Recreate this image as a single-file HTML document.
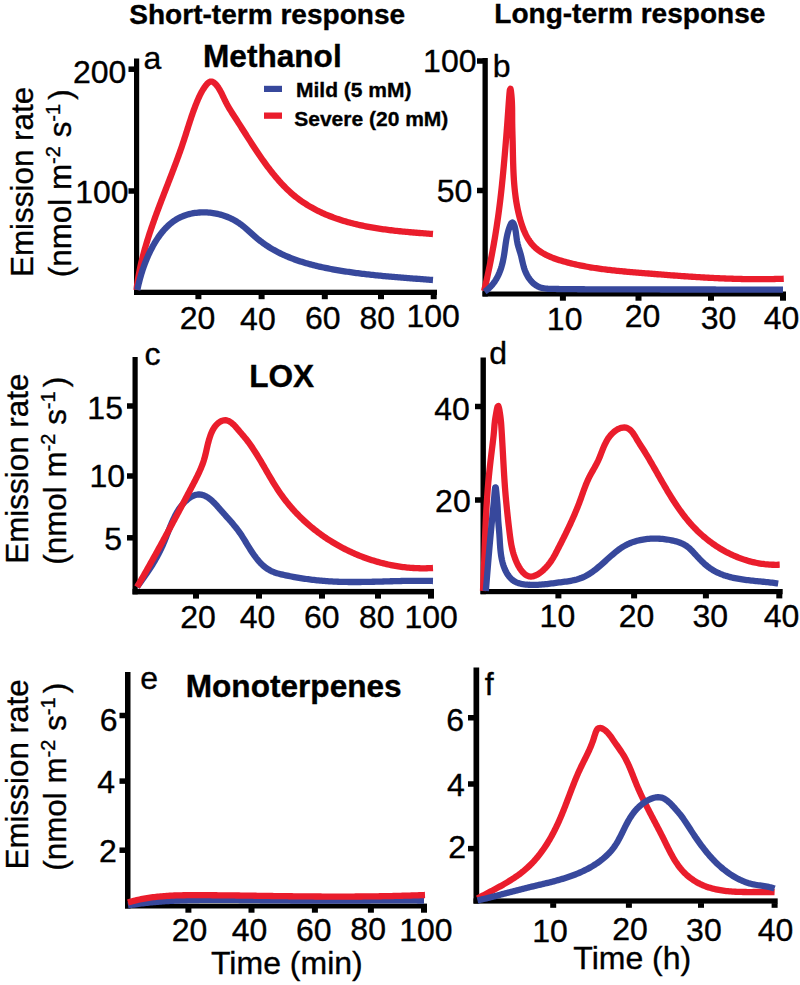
<!DOCTYPE html><html><head><meta charset="utf-8"><style>html,body{margin:0;padding:0;background:#fff;width:800px;height:985px;overflow:hidden}</style></head><body><svg width="800" height="985" viewBox="0 0 800 985" style="display:block;font-family:'Liberation Sans',sans-serif"><style>.sup{font-size:20px} text{white-space:pre;stroke:#000;stroke-width:0.35px}</style><rect width="800" height="985" fill="#fff"/><rect x="134.00" y="58.50" width="5.20" height="236.50" fill="#000"/><rect x="134.00" y="289.70" width="303.00" height="5.30" fill="#000"/><rect x="128.50" y="66.45" width="6.00" height="5.50" fill="#000"/><rect x="128.50" y="188.25" width="6.00" height="5.50" fill="#000"/><rect x="195.40" y="294.50" width="6.00" height="4.70" fill="#000"/><rect x="258.60" y="294.50" width="6.00" height="4.70" fill="#000"/><rect x="321.80" y="294.50" width="6.00" height="4.70" fill="#000"/><rect x="378.00" y="294.50" width="6.00" height="4.70" fill="#000"/><rect x="430.70" y="294.50" width="6.00" height="4.70" fill="#000"/><rect x="482.50" y="58.00" width="5.30" height="238.50" fill="#000"/><rect x="482.50" y="291.50" width="303.50" height="5.00" fill="#000"/><rect x="477.00" y="58.25" width="6.00" height="5.50" fill="#000"/><rect x="477.00" y="187.75" width="6.00" height="5.50" fill="#000"/><rect x="559.90" y="296.00" width="6.00" height="4.70" fill="#000"/><rect x="635.50" y="296.00" width="6.00" height="4.70" fill="#000"/><rect x="708.00" y="296.00" width="6.00" height="4.70" fill="#000"/><rect x="780.00" y="296.00" width="6.00" height="4.70" fill="#000"/><rect x="132.50" y="357.00" width="5.20" height="237.40" fill="#000"/><rect x="132.50" y="588.90" width="301.50" height="5.50" fill="#000"/><rect x="127.00" y="403.25" width="6.00" height="5.50" fill="#000"/><rect x="127.00" y="473.25" width="6.00" height="5.50" fill="#000"/><rect x="127.00" y="535.05" width="6.00" height="5.50" fill="#000"/><rect x="193.00" y="593.90" width="6.00" height="4.70" fill="#000"/><rect x="256.00" y="593.90" width="6.00" height="4.70" fill="#000"/><rect x="319.00" y="593.90" width="6.00" height="4.70" fill="#000"/><rect x="375.00" y="593.90" width="6.00" height="4.70" fill="#000"/><rect x="428.00" y="593.90" width="6.00" height="4.70" fill="#000"/><rect x="480.50" y="357.50" width="5.40" height="236.70" fill="#000"/><rect x="480.50" y="589.00" width="302.20" height="5.20" fill="#000"/><rect x="475.00" y="403.75" width="6.00" height="5.50" fill="#000"/><rect x="475.00" y="497.25" width="6.00" height="5.50" fill="#000"/><rect x="555.40" y="593.70" width="6.00" height="4.70" fill="#000"/><rect x="631.10" y="593.70" width="6.00" height="4.70" fill="#000"/><rect x="702.90" y="593.70" width="6.00" height="4.70" fill="#000"/><rect x="776.30" y="593.70" width="6.00" height="4.70" fill="#000"/><rect x="125.00" y="672.00" width="5.50" height="236.50" fill="#000"/><rect x="125.00" y="903.60" width="302.00" height="4.90" fill="#000"/><rect x="119.50" y="712.75" width="6.00" height="5.50" fill="#000"/><rect x="119.50" y="778.35" width="6.00" height="5.50" fill="#000"/><rect x="119.50" y="847.45" width="6.00" height="5.50" fill="#000"/><rect x="185.40" y="908.00" width="6.00" height="4.70" fill="#000"/><rect x="248.50" y="908.00" width="6.00" height="4.70" fill="#000"/><rect x="311.90" y="908.00" width="6.00" height="4.70" fill="#000"/><rect x="367.90" y="908.00" width="6.00" height="4.70" fill="#000"/><rect x="421.00" y="908.00" width="6.00" height="4.70" fill="#000"/><rect x="473.50" y="667.50" width="5.70" height="236.10" fill="#000"/><rect x="473.50" y="898.40" width="304.20" height="5.20" fill="#000"/><rect x="468.00" y="715.00" width="6.00" height="5.50" fill="#000"/><rect x="468.00" y="781.25" width="6.00" height="5.50" fill="#000"/><rect x="468.00" y="845.85" width="6.00" height="5.50" fill="#000"/><rect x="550.20" y="903.10" width="6.00" height="4.70" fill="#000"/><rect x="625.90" y="903.10" width="6.00" height="4.70" fill="#000"/><rect x="698.00" y="903.10" width="6.00" height="4.70" fill="#000"/><rect x="771.60" y="903.10" width="6.00" height="4.70" fill="#000"/><path d="M136.50,290.00 L136.67,288.50 L136.86,287.01 L137.06,285.51 L137.26,284.02 L137.48,282.53 L137.71,281.04 L137.95,279.55 L138.19,278.06 L138.45,276.58 L138.72,275.09 L138.99,273.61 L139.27,272.13 L139.57,270.65 L139.87,269.18 L140.18,267.70 L140.50,266.23 L140.83,264.76 L141.16,263.29 L141.50,261.82 L141.85,260.36 L142.21,258.89 L142.58,257.43 L142.95,255.97 L143.33,254.51 L143.72,253.05 L144.11,251.60 L144.51,250.15 L144.92,248.70 L145.33,247.25 L145.75,245.80 L146.18,244.35 L146.61,242.91 L147.05,241.47 L147.49,240.03 L147.94,238.59 L148.39,237.15 L148.85,235.71 L149.31,234.28 L149.78,232.85 L150.25,231.42 L150.73,229.99 L151.21,228.56 L151.70,227.13 L152.19,225.71 L152.68,224.28 L153.18,222.86 L153.68,221.44 L154.18,220.02 L154.69,218.60 L155.20,217.18 L155.71,215.76 L156.23,214.35 L156.75,212.93 L157.27,211.52 L157.80,210.11 L158.32,208.69 L158.85,207.28 L159.38,205.87 L159.92,204.46 L160.45,203.05 L160.99,201.65 L161.53,200.24 L162.07,198.83 L162.61,197.42 L163.15,196.02 L163.69,194.61 L164.23,193.21 L164.78,191.80 L165.32,190.40 L165.87,188.99 L166.41,187.59 L166.96,186.18 L167.50,184.78 L168.05,183.37 L168.60,181.97 L169.14,180.56 L169.68,179.15 L170.23,177.75 L170.77,176.34 L171.31,174.94 L171.85,173.53 L172.39,172.12 L172.93,170.72 L173.47,169.31 L174.00,167.90 L174.54,166.49 L175.07,165.08 L175.60,163.67 L176.12,162.25 L176.65,160.84 L177.17,159.43 L177.69,158.01 L178.20,156.60 L178.72,155.18 L179.23,153.76 L179.74,152.34 L180.24,150.92 L180.74,149.50 L181.24,148.08 L181.73,146.65 L182.22,145.23 L182.70,143.80 L183.18,142.37 L183.66,140.94 L184.13,139.51 L184.59,138.08 L185.06,136.64 L185.52,135.21 L185.97,133.77 L186.43,132.33 L186.88,130.90 L187.34,129.46 L187.79,128.02 L188.25,126.59 L188.70,125.15 L189.16,123.72 L189.63,122.28 L190.09,120.85 L190.57,119.42 L191.04,117.99 L191.52,116.56 L192.01,115.13 L192.50,113.71 L193.01,112.29 L193.51,110.87 L194.03,109.45 L194.56,108.04 L195.09,106.63 L195.63,105.23 L196.19,103.82 L196.75,102.43 L197.32,101.03 L197.91,99.64 L198.52,98.26 L199.14,96.89 L199.78,95.53 L200.45,94.18 L201.14,92.84 L201.86,91.52 L202.62,90.21 L203.40,88.92 L204.23,87.66 L205.09,86.43 L206.00,85.23 L206.97,84.07 L208.03,83.00 L209.23,82.09 L210.62,81.54 L212.11,81.63 L213.48,82.25 L214.68,83.16 L215.75,84.22 L216.72,85.37 L217.62,86.58 L218.47,87.83 L219.26,89.11 L220.02,90.41 L220.74,91.73 L221.44,93.07 L222.11,94.42 L222.77,95.78 L223.41,97.14 L224.06,98.50 L224.70,99.86 L225.36,101.22 L226.03,102.57 L226.73,103.90 L227.45,105.23 L228.19,106.54 L228.95,107.84 L229.72,109.14 L230.50,110.42 L231.30,111.70 L232.11,112.98 L232.92,114.25 L233.74,115.51 L234.56,116.78 L235.38,118.04 L236.20,119.31 L237.02,120.57 L237.83,121.84 L238.64,123.11 L239.46,124.38 L240.27,125.65 L241.07,126.92 L241.88,128.19 L242.69,129.47 L243.50,130.74 L244.31,132.01 L245.11,133.28 L245.92,134.55 L246.73,135.83 L247.54,137.10 L248.35,138.37 L249.16,139.64 L249.98,140.91 L250.79,142.17 L251.61,143.44 L252.43,144.70 L253.25,145.97 L254.08,147.23 L254.91,148.49 L255.74,149.74 L256.58,151.00 L257.41,152.25 L258.26,153.50 L259.10,154.74 L259.96,155.99 L260.81,157.23 L261.67,158.47 L262.54,159.70 L263.41,160.93 L264.29,162.16 L265.17,163.38 L266.06,164.60 L266.95,165.81 L267.85,167.02 L268.76,168.22 L269.67,169.42 L270.59,170.61 L271.52,171.80 L272.46,172.98 L273.40,174.15 L274.36,175.32 L275.32,176.48 L276.29,177.63 L277.27,178.78 L278.26,179.92 L279.25,181.05 L280.26,182.17 L281.28,183.28 L282.31,184.38 L283.35,185.47 L284.40,186.55 L285.46,187.63 L286.53,188.68 L287.61,189.73 L288.71,190.77 L289.81,191.79 L290.93,192.80 L292.07,193.79 L293.21,194.77 L294.37,195.74 L295.54,196.69 L296.72,197.63 L297.91,198.54 L299.12,199.45 L300.34,200.33 L301.57,201.21 L302.81,202.06 L304.06,202.90 L305.32,203.72 L306.59,204.53 L307.88,205.33 L309.17,206.10 L310.47,206.87 L311.78,207.61 L313.09,208.34 L314.42,209.06 L315.75,209.76 L317.10,210.45 L318.44,211.12 L319.80,211.78 L321.16,212.42 L322.53,213.05 L323.91,213.67 L325.29,214.27 L326.68,214.85 L328.07,215.43 L329.47,215.99 L330.88,216.54 L332.28,217.07 L333.70,217.59 L335.12,218.10 L336.54,218.60 L337.97,219.09 L339.40,219.56 L340.83,220.02 L342.27,220.47 L343.71,220.91 L345.16,221.34 L346.60,221.76 L348.06,222.17 L349.51,222.56 L350.97,222.95 L352.43,223.32 L353.89,223.69 L355.35,224.05 L356.82,224.40 L358.29,224.73 L359.76,225.06 L361.23,225.38 L362.70,225.70 L364.18,226.00 L365.66,226.30 L367.14,226.58 L368.62,226.86 L370.10,227.14 L371.58,227.40 L373.07,227.66 L374.56,227.91 L376.04,228.15 L377.53,228.39 L379.02,228.62 L380.51,228.84 L382.00,229.06 L383.49,229.27 L384.99,229.48 L386.48,229.68 L387.98,229.87 L389.47,230.06 L390.97,230.25 L392.46,230.43 L393.96,230.60 L395.46,230.77 L396.96,230.93 L398.45,231.10 L399.95,231.25 L401.45,231.41 L402.95,231.55 L404.45,231.70 L405.95,231.84 L407.45,231.98 L408.95,232.12 L410.46,232.25 L411.96,232.38 L413.46,232.51 L414.96,232.63 L416.46,232.75 L417.97,232.87 L419.47,232.99 L420.97,233.11 L422.47,233.22 L423.98,233.34 L425.48,233.45 L426.98,233.56 L428.48,233.67 L429.99,233.78 L431.49,233.89 L432.99,234.00" fill="none" stroke="#ea1d2c" stroke-width="6.3" stroke-linecap="butt" stroke-linejoin="round"/><path d="M137.30,290.00 L137.61,288.52 L137.93,287.05 L138.27,285.58 L138.61,284.11 L138.97,282.64 L139.34,281.18 L139.72,279.72 L140.11,278.26 L140.51,276.81 L140.93,275.36 L141.36,273.92 L141.80,272.47 L142.26,271.03 L142.72,269.60 L143.21,268.17 L143.70,266.75 L144.21,265.33 L144.73,263.91 L145.27,262.50 L145.82,261.10 L146.39,259.70 L146.97,258.31 L147.56,256.92 L148.17,255.54 L148.80,254.17 L149.44,252.80 L150.10,251.45 L150.77,250.10 L151.46,248.75 L152.16,247.42 L152.88,246.09 L153.62,244.78 L154.37,243.47 L155.15,242.18 L155.93,240.89 L156.74,239.62 L157.57,238.36 L158.42,237.11 L159.29,235.88 L160.18,234.66 L161.10,233.46 L162.04,232.28 L163.00,231.12 L163.98,229.98 L165.00,228.86 L166.03,227.76 L167.10,226.69 L168.19,225.65 L169.30,224.64 L170.45,223.65 L171.62,222.71 L172.82,221.79 L174.05,220.91 L175.30,220.08 L176.58,219.28 L177.89,218.53 L179.22,217.82 L180.58,217.16 L181.96,216.54 L183.35,215.97 L184.77,215.45 L186.20,214.97 L187.64,214.53 L189.10,214.14 L190.56,213.78 L192.04,213.47 L193.52,213.20 L195.01,212.97 L196.51,212.77 L198.01,212.62 L199.51,212.50 L201.02,212.42 L202.53,212.37 L204.03,212.36 L205.54,212.39 L207.05,212.46 L208.55,212.55 L210.06,212.69 L211.56,212.86 L213.05,213.06 L214.54,213.30 L216.02,213.57 L217.50,213.88 L218.97,214.23 L220.43,214.60 L221.88,215.02 L223.32,215.47 L224.75,215.95 L226.17,216.46 L227.57,217.02 L228.96,217.60 L230.34,218.22 L231.70,218.87 L233.04,219.55 L234.37,220.27 L235.68,221.02 L236.97,221.80 L238.24,222.61 L239.49,223.45 L240.72,224.32 L241.93,225.23 L243.12,226.15 L244.29,227.10 L245.45,228.07 L246.59,229.06 L247.73,230.05 L248.85,231.06 L249.97,232.07 L251.09,233.09 L252.20,234.10 L253.32,235.11 L254.44,236.12 L255.58,237.11 L256.72,238.10 L257.88,239.07 L259.05,240.02 L260.23,240.95 L261.43,241.87 L262.64,242.77 L263.86,243.66 L265.10,244.52 L266.34,245.37 L267.60,246.20 L268.87,247.01 L270.15,247.81 L271.44,248.59 L272.74,249.35 L274.06,250.10 L275.38,250.83 L276.70,251.54 L278.04,252.24 L279.39,252.92 L280.74,253.59 L282.10,254.24 L283.47,254.88 L284.84,255.50 L286.23,256.10 L287.61,256.69 L289.01,257.27 L290.41,257.83 L291.81,258.38 L293.22,258.92 L294.64,259.44 L296.06,259.95 L297.48,260.44 L298.91,260.93 L300.34,261.40 L301.78,261.86 L303.22,262.31 L304.66,262.74 L306.11,263.17 L307.56,263.59 L309.01,263.99 L310.47,264.39 L311.93,264.77 L313.39,265.15 L314.85,265.51 L316.32,265.87 L317.79,266.22 L319.26,266.56 L320.73,266.89 L322.20,267.22 L323.68,267.53 L325.15,267.84 L326.63,268.14 L328.11,268.44 L329.59,268.73 L331.07,269.01 L332.56,269.28 L334.04,269.55 L335.52,269.82 L337.01,270.08 L338.50,270.33 L339.99,270.58 L341.47,270.82 L342.96,271.06 L344.45,271.30 L345.94,271.53 L347.44,271.75 L348.93,271.97 L350.42,272.19 L351.91,272.40 L353.41,272.61 L354.90,272.82 L356.40,273.02 L357.89,273.21 L359.39,273.40 L360.89,273.59 L362.38,273.78 L363.88,273.96 L365.38,274.14 L366.88,274.31 L368.38,274.48 L369.87,274.65 L371.37,274.81 L372.87,274.97 L374.37,275.13 L375.87,275.29 L377.38,275.44 L378.88,275.59 L380.38,275.74 L381.88,275.88 L383.38,276.03 L384.88,276.17 L386.38,276.31 L387.89,276.44 L389.39,276.58 L390.89,276.71 L392.40,276.84 L393.90,276.97 L395.40,277.09 L396.90,277.22 L398.41,277.34 L399.91,277.47 L401.41,277.59 L402.92,277.71 L404.42,277.83 L405.93,277.94 L407.43,278.06 L408.93,278.18 L410.44,278.29 L411.94,278.41 L413.45,278.52 L414.95,278.64 L416.45,278.75 L417.96,278.86 L419.46,278.98 L420.97,279.09 L422.47,279.20 L423.98,279.31 L425.48,279.43 L426.98,279.54 L428.49,279.66 L429.99,279.77 L431.50,279.89 L433.00,280.00" fill="none" stroke="#37489c" stroke-width="6.3" stroke-linecap="butt" stroke-linejoin="round"/><path d="M484.10,291.00 L484.45,289.54 L484.79,288.07 L485.13,286.61 L485.47,285.14 L485.80,283.67 L486.13,282.20 L486.46,280.74 L486.79,279.27 L487.12,277.80 L487.44,276.33 L487.76,274.86 L488.07,273.39 L488.39,271.92 L488.70,270.44 L489.01,268.97 L489.31,267.50 L489.61,266.02 L489.91,264.55 L490.21,263.07 L490.51,261.60 L490.80,260.12 L491.09,258.65 L491.37,257.17 L491.66,255.69 L491.94,254.21 L492.21,252.73 L492.49,251.25 L492.76,249.77 L493.03,248.29 L493.30,246.81 L493.56,245.33 L493.83,243.85 L494.08,242.37 L494.34,240.88 L494.59,239.40 L494.84,237.92 L495.09,236.43 L495.34,234.95 L495.58,233.46 L495.82,231.98 L496.05,230.49 L496.29,229.01 L496.52,227.52 L496.75,226.03 L496.97,224.54 L497.19,223.06 L497.41,221.57 L497.63,220.08 L497.84,218.59 L498.06,217.10 L498.26,215.61 L498.47,214.12 L498.67,212.63 L498.87,211.14 L499.07,209.64 L499.26,208.15 L499.45,206.66 L499.64,205.17 L499.83,203.67 L500.01,202.18 L500.19,200.69 L500.37,199.19 L500.54,197.70 L500.72,196.20 L500.89,194.71 L501.05,193.21 L501.22,191.72 L501.38,190.22 L501.54,188.73 L501.70,187.23 L501.86,185.73 L502.01,184.24 L502.16,182.74 L502.31,181.24 L502.46,179.74 L502.61,178.25 L502.75,176.75 L502.90,175.25 L503.04,173.75 L503.18,172.26 L503.32,170.76 L503.46,169.26 L503.60,167.76 L503.74,166.26 L503.87,164.76 L504.01,163.27 L504.14,161.77 L504.28,160.27 L504.41,158.77 L504.54,157.27 L504.68,155.77 L504.81,154.27 L504.94,152.77 L505.06,151.27 L505.19,149.78 L505.32,148.28 L505.45,146.78 L505.57,145.28 L505.70,143.78 L505.82,142.28 L505.94,140.78 L506.06,139.28 L506.19,137.78 L506.31,136.28 L506.42,134.78 L506.54,133.28 L506.66,131.78 L506.77,130.28 L506.89,128.78 L507.00,127.28 L507.12,125.78 L507.23,124.28 L507.34,122.78 L507.45,121.28 L507.56,119.77 L507.66,118.27 L507.77,116.77 L507.88,115.27 L507.98,113.77 L508.09,112.27 L508.20,110.77 L508.30,109.27 L508.41,107.77 L508.52,106.27 L508.63,104.77 L508.73,103.27 L508.84,101.76 L508.96,100.26 L509.07,98.76 L509.18,97.26 L509.30,95.76 L509.42,94.26 L509.55,92.76 L509.71,91.27 L509.92,89.78 L510.47,88.84 L510.82,90.31 L511.04,91.79 L511.22,93.29 L511.37,94.79 L511.50,96.28 L511.62,97.78 L511.73,99.29 L511.82,100.79 L511.90,102.29 L511.96,103.79 L512.02,105.30 L512.06,106.80 L512.09,108.31 L512.12,109.81 L512.13,111.31 L512.14,112.82 L512.15,114.32 L512.15,115.83 L512.16,117.33 L512.16,118.84 L512.17,120.34 L512.18,121.85 L512.20,123.35 L512.23,124.86 L512.25,126.36 L512.29,127.86 L512.32,129.37 L512.36,130.87 L512.40,132.38 L512.44,133.88 L512.48,135.39 L512.53,136.89 L512.57,138.39 L512.61,139.90 L512.65,141.40 L512.68,142.91 L512.72,144.41 L512.75,145.92 L512.78,147.42 L512.81,148.92 L512.84,150.43 L512.88,151.93 L512.91,153.44 L512.94,154.94 L512.97,156.45 L513.01,157.95 L513.04,159.45 L513.08,160.96 L513.12,162.46 L513.17,163.97 L513.22,165.47 L513.27,166.97 L513.32,168.48 L513.38,169.98 L513.45,171.48 L513.52,172.99 L513.59,174.49 L513.67,175.99 L513.76,177.50 L513.85,179.00 L513.95,180.50 L514.06,182.00 L514.17,183.50 L514.30,185.00 L514.43,186.50 L514.57,188.00 L514.72,189.49 L514.87,190.99 L515.04,192.49 L515.22,193.98 L515.41,195.47 L515.61,196.96 L515.82,198.45 L516.04,199.94 L516.27,201.43 L516.51,202.91 L516.77,204.40 L517.04,205.88 L517.32,207.35 L517.62,208.83 L517.93,210.30 L518.25,211.77 L518.59,213.24 L518.94,214.70 L519.30,216.16 L519.68,217.62 L520.08,219.07 L520.49,220.52 L520.92,221.96 L521.36,223.40 L521.83,224.83 L522.32,226.25 L522.83,227.66 L523.37,229.07 L523.93,230.47 L524.52,231.85 L525.14,233.22 L525.79,234.58 L526.48,235.92 L527.20,237.24 L527.96,238.54 L528.75,239.81 L529.59,241.06 L530.47,242.29 L531.39,243.48 L532.35,244.63 L533.36,245.75 L534.42,246.82 L535.52,247.85 L536.65,248.83 L537.83,249.77 L539.04,250.67 L540.27,251.53 L541.54,252.34 L542.82,253.12 L544.13,253.86 L545.46,254.57 L546.81,255.24 L548.17,255.88 L549.54,256.50 L550.93,257.08 L552.32,257.65 L553.73,258.18 L555.14,258.70 L556.56,259.19 L557.99,259.67 L559.42,260.13 L560.86,260.57 L562.30,261.00 L563.75,261.41 L565.20,261.82 L566.65,262.21 L568.11,262.60 L569.56,262.97 L571.02,263.34 L572.49,263.69 L573.95,264.04 L575.42,264.37 L576.89,264.70 L578.36,265.02 L579.83,265.33 L581.30,265.63 L582.78,265.93 L584.26,266.21 L585.73,266.49 L587.22,266.76 L588.70,267.02 L590.18,267.27 L591.66,267.52 L593.15,267.76 L594.64,267.99 L596.12,268.21 L597.61,268.43 L599.10,268.65 L600.59,268.85 L602.08,269.05 L603.58,269.25 L605.07,269.44 L606.56,269.62 L608.06,269.80 L609.55,269.98 L611.05,270.14 L612.54,270.31 L614.04,270.47 L615.53,270.63 L617.03,270.78 L618.53,270.93 L620.03,271.08 L621.52,271.22 L623.02,271.36 L624.52,271.50 L626.02,271.63 L627.52,271.77 L629.02,271.90 L630.52,272.03 L632.02,272.15 L633.51,272.28 L635.01,272.40 L636.51,272.53 L638.01,272.65 L639.51,272.78 L641.01,272.90 L642.51,273.02 L644.01,273.15 L645.51,273.27 L647.01,273.39 L648.51,273.51 L650.01,273.63 L651.51,273.76 L653.01,273.88 L654.51,274.00 L656.01,274.12 L657.51,274.24 L659.01,274.36 L660.51,274.47 L662.01,274.59 L663.51,274.71 L665.01,274.82 L666.51,274.94 L668.01,275.06 L669.51,275.17 L671.01,275.28 L672.51,275.40 L674.01,275.51 L675.51,275.62 L677.01,275.73 L678.51,275.84 L680.02,275.94 L681.52,276.05 L683.02,276.15 L684.52,276.26 L686.02,276.36 L687.52,276.46 L689.02,276.56 L690.52,276.66 L692.02,276.76 L693.53,276.86 L695.03,276.95 L696.53,277.05 L698.03,277.14 L699.53,277.23 L701.04,277.32 L702.54,277.40 L704.04,277.49 L705.54,277.57 L707.04,277.66 L708.55,277.74 L710.05,277.82 L711.55,277.89 L713.06,277.97 L714.56,278.04 L716.06,278.11 L717.56,278.18 L719.07,278.25 L720.57,278.32 L722.07,278.38 L723.58,278.44 L725.08,278.50 L726.58,278.56 L728.09,278.61 L729.59,278.66 L731.10,278.71 L732.60,278.76 L734.10,278.81 L735.61,278.85 L737.11,278.89 L738.62,278.93 L740.12,278.97 L741.62,279.00 L743.13,279.03 L744.63,279.06 L746.14,279.08 L747.64,279.11 L749.15,279.13 L750.65,279.14 L752.16,279.16 L753.66,279.17 L755.17,279.18 L756.67,279.18 L758.18,279.19 L759.68,279.19 L761.18,279.18 L762.69,279.18 L764.19,279.17 L765.70,279.15 L767.20,279.14 L768.71,279.12 L770.21,279.10 L771.72,279.07 L773.22,279.04 L774.73,279.01 L776.23,278.97 L777.73,278.93 L779.24,278.89 L780.74,278.85 L782.25,278.80 L783.75,278.74" fill="none" stroke="#ea1d2c" stroke-width="6.3" stroke-linecap="butt" stroke-linejoin="round"/><path d="M484.70,291.70 L485.92,290.81 L487.10,289.88 L488.24,288.90 L489.35,287.87 L490.42,286.81 L491.44,285.70 L492.43,284.56 L493.37,283.38 L494.26,282.17 L495.11,280.92 L495.92,279.65 L496.68,278.35 L497.40,277.02 L498.07,275.68 L498.71,274.31 L499.31,272.93 L499.87,271.53 L500.39,270.11 L500.88,268.69 L501.33,267.25 L501.76,265.80 L502.15,264.35 L502.52,262.89 L502.86,261.42 L503.18,259.95 L503.47,258.47 L503.75,256.99 L504.00,255.50 L504.24,254.01 L504.46,252.52 L504.68,251.03 L504.89,249.54 L505.09,248.04 L505.30,246.55 L505.51,245.06 L505.72,243.56 L505.95,242.07 L506.19,240.59 L506.44,239.10 L506.71,237.62 L507.01,236.14 L507.33,234.67 L507.68,233.20 L508.06,231.74 L508.47,230.29 L508.92,228.85 L509.41,227.43 L509.94,226.02 L510.52,224.63 L511.23,223.29 L512.36,222.40 L513.44,223.38 L514.08,224.75 L514.56,226.17 L514.95,227.63 L515.28,229.10 L515.56,230.58 L515.80,232.07 L516.02,233.56 L516.21,235.06 L516.41,236.55 L516.60,238.05 L516.82,239.54 L517.05,241.03 L517.33,242.51 L517.64,243.98 L518.01,245.45 L518.41,246.90 L518.85,248.34 L519.30,249.78 L519.75,251.22 L520.19,252.66 L520.62,254.10 L521.01,255.56 L521.37,257.02 L521.72,258.49 L522.05,259.96 L522.39,261.43 L522.73,262.90 L523.08,264.36 L523.46,265.82 L523.87,267.27 L524.32,268.71 L524.81,270.14 L525.36,271.54 L525.96,272.92 L526.62,274.28 L527.33,275.61 L528.09,276.91 L528.91,278.17 L529.79,279.40 L530.73,280.58 L531.73,281.70 L532.79,282.78 L533.92,283.78 L535.10,284.71 L536.35,285.55 L537.67,286.29 L539.03,286.92 L540.45,287.44 L541.90,287.86 L543.37,288.19 L544.85,288.43 L546.35,288.62 L547.85,288.75 L549.36,288.84 L550.86,288.89 L552.37,288.93 L553.88,288.95 L555.38,288.97 L556.89,289.00 L558.40,289.02 L559.91,289.03 L561.41,289.05 L562.92,289.07 L564.43,289.09 L565.94,289.11 L567.44,289.12 L568.95,289.14 L570.46,289.16 L571.96,289.17 L573.47,289.19 L574.98,289.20 L576.49,289.21 L577.99,289.23 L579.50,289.24 L581.01,289.25 L582.52,289.26 L584.02,289.27 L585.53,289.29 L587.04,289.30 L588.55,289.31 L590.05,289.32 L591.56,289.32 L593.07,289.33 L594.58,289.34 L596.08,289.35 L597.59,289.36 L599.10,289.37 L600.60,289.37 L602.11,289.38 L603.62,289.39 L605.13,289.39 L606.63,289.40 L608.14,289.40 L609.65,289.41 L611.16,289.41 L612.66,289.42 L614.17,289.42 L615.68,289.43 L617.19,289.43 L618.69,289.43 L620.20,289.44 L621.71,289.44 L623.22,289.44 L624.72,289.45 L626.23,289.45 L627.74,289.45 L629.25,289.45 L630.75,289.46 L632.26,289.46 L633.77,289.46 L635.27,289.46 L636.78,289.46 L638.29,289.46 L639.80,289.46 L641.30,289.47 L642.81,289.47 L644.32,289.47 L645.83,289.47 L647.33,289.47 L648.84,289.47 L650.35,289.47 L651.86,289.47 L653.36,289.47 L654.87,289.47 L656.38,289.47 L657.89,289.47 L659.39,289.47 L660.90,289.48 L662.41,289.48 L663.92,289.48 L665.42,289.48 L666.93,289.48 L668.44,289.48 L669.94,289.48 L671.45,289.48 L672.96,289.48 L674.47,289.48 L675.97,289.48 L677.48,289.49 L678.99,289.49 L680.50,289.49 L682.00,289.49 L683.51,289.49 L685.02,289.49 L686.53,289.49 L688.03,289.49 L689.54,289.50 L691.05,289.50 L692.56,289.50 L694.06,289.50 L695.57,289.50 L697.08,289.50 L698.59,289.50 L700.09,289.51 L701.60,289.51 L703.11,289.51 L704.61,289.51 L706.12,289.51 L707.63,289.52 L709.14,289.52 L710.64,289.52 L712.15,289.52 L713.66,289.52 L715.17,289.52 L716.67,289.53 L718.18,289.53 L719.69,289.53 L721.20,289.53 L722.70,289.53 L724.21,289.54 L725.72,289.54 L727.23,289.54 L728.73,289.54 L730.24,289.54 L731.75,289.55 L733.26,289.55 L734.76,289.55 L736.27,289.55 L737.78,289.55 L739.28,289.55 L740.79,289.56 L742.30,289.56 L743.81,289.56 L745.31,289.56 L746.82,289.56 L748.33,289.57 L749.84,289.57 L751.34,289.57 L752.85,289.57 L754.36,289.57 L755.87,289.57 L757.37,289.58 L758.88,289.58 L760.39,289.58 L761.90,289.58 L763.40,289.58 L764.91,289.58 L766.42,289.59 L767.93,289.59 L769.43,289.59 L770.94,289.59 L772.45,289.59 L773.96,289.59 L775.46,289.59 L776.97,289.60 L778.48,289.60 L779.98,289.60 L781.49,289.60 L783.00,289.60" fill="none" stroke="#37489c" stroke-width="6.3" stroke-linecap="butt" stroke-linejoin="round"/><path d="M137.10,586.80 L138.00,585.59 L138.90,584.38 L139.80,583.17 L140.69,581.95 L141.58,580.73 L142.46,579.51 L143.33,578.28 L144.20,577.05 L145.07,575.81 L145.93,574.57 L146.78,573.32 L147.62,572.08 L148.46,570.82 L149.29,569.56 L150.11,568.30 L150.93,567.03 L151.73,565.75 L152.53,564.47 L153.31,563.18 L154.09,561.89 L154.85,560.59 L155.61,559.28 L156.35,557.97 L157.08,556.65 L157.80,555.32 L158.51,553.99 L159.20,552.65 L159.88,551.31 L160.55,549.95 L161.20,548.59 L161.84,547.23 L162.46,545.85 L163.07,544.47 L163.66,543.08 L164.24,541.69 L164.81,540.30 L165.38,538.90 L165.93,537.49 L166.48,536.09 L167.03,534.69 L167.58,533.28 L168.12,531.87 L168.67,530.47 L169.23,529.06 L169.78,527.66 L170.35,526.26 L170.92,524.87 L171.51,523.48 L172.11,522.09 L172.72,520.72 L173.35,519.34 L173.99,517.98 L174.66,516.63 L175.34,515.28 L176.05,513.95 L176.79,512.64 L177.55,511.33 L178.34,510.05 L179.17,508.79 L180.03,507.55 L180.93,506.34 L181.87,505.16 L182.84,504.01 L183.85,502.89 L184.91,501.81 L186.00,500.77 L187.13,499.77 L188.30,498.82 L189.51,497.92 L190.77,497.10 L192.08,496.35 L193.44,495.69 L194.85,495.15 L196.30,494.74 L197.79,494.50 L199.29,494.44 L200.79,494.58 L202.27,494.90 L203.70,495.36 L205.09,495.95 L206.44,496.63 L207.73,497.41 L208.98,498.26 L210.18,499.17 L211.33,500.14 L212.46,501.15 L213.54,502.19 L214.60,503.27 L215.64,504.36 L216.65,505.48 L217.66,506.60 L218.65,507.74 L219.64,508.88 L220.63,510.01 L221.63,511.14 L222.63,512.27 L223.64,513.40 L224.64,514.52 L225.65,515.65 L226.66,516.77 L227.66,517.89 L228.66,519.02 L229.66,520.15 L230.66,521.28 L231.64,522.42 L232.62,523.57 L233.59,524.73 L234.55,525.89 L235.50,527.06 L236.43,528.25 L237.35,529.45 L238.26,530.65 L239.14,531.88 L240.01,533.11 L240.85,534.36 L241.69,535.62 L242.50,536.88 L243.31,538.16 L244.11,539.44 L244.90,540.72 L245.69,542.01 L246.48,543.29 L247.27,544.58 L248.06,545.87 L248.85,547.15 L249.65,548.43 L250.46,549.70 L251.27,550.97 L252.10,552.23 L252.95,553.48 L253.81,554.72 L254.68,555.95 L255.58,557.16 L256.50,558.36 L257.44,559.53 L258.41,560.69 L259.40,561.82 L260.43,562.93 L261.49,564.01 L262.58,565.05 L263.70,566.05 L264.86,567.01 L266.06,567.93 L267.30,568.79 L268.58,569.59 L269.89,570.34 L271.24,571.01 L272.62,571.63 L274.02,572.18 L275.44,572.69 L276.88,573.15 L278.32,573.57 L279.78,573.96 L281.24,574.32 L282.71,574.67 L284.18,575.00 L285.66,575.32 L287.13,575.64 L288.61,575.94 L290.09,576.24 L291.57,576.53 L293.05,576.81 L294.53,577.09 L296.02,577.35 L297.51,577.61 L298.99,577.86 L300.48,578.11 L301.97,578.34 L303.46,578.57 L304.95,578.79 L306.45,579.00 L307.94,579.21 L309.44,579.40 L310.93,579.59 L312.43,579.77 L313.93,579.95 L315.43,580.11 L316.93,580.27 L318.43,580.43 L319.93,580.57 L321.43,580.71 L322.94,580.84 L324.44,580.96 L325.94,581.07 L327.45,581.18 L328.95,581.28 L330.46,581.37 L331.96,581.46 L333.47,581.54 L334.98,581.61 L336.48,581.68 L337.99,581.74 L339.50,581.79 L341.01,581.83 L342.51,581.88 L344.02,581.91 L345.53,581.94 L347.04,581.97 L348.55,581.98 L350.06,582.00 L351.56,582.01 L353.07,582.02 L354.58,582.02 L356.09,582.01 L357.60,582.01 L359.11,582.00 L360.61,581.98 L362.12,581.97 L363.63,581.95 L365.14,581.92 L366.65,581.90 L368.15,581.87 L369.66,581.84 L371.17,581.80 L372.68,581.77 L374.19,581.73 L375.69,581.69 L377.20,581.65 L378.71,581.61 L380.22,581.57 L381.73,581.53 L383.23,581.49 L384.74,581.44 L386.25,581.40 L387.76,581.36 L389.27,581.31 L390.77,581.27 L392.28,581.23 L393.79,581.19 L395.30,581.14 L396.80,581.10 L398.31,581.07 L399.82,581.03 L401.33,580.99 L402.84,580.96 L404.34,580.93 L405.85,580.90 L407.36,580.88 L408.87,580.85 L410.38,580.83 L411.88,580.81 L413.39,580.80 L414.90,580.79 L416.41,580.78 L417.92,580.78 L419.43,580.78 L420.94,580.78 L422.44,580.79 L423.95,580.81 L425.46,580.83 L426.97,580.85 L428.48,580.88 L429.98,580.92 L431.49,580.96 L433.00,581.00" fill="none" stroke="#37489c" stroke-width="6.3" stroke-linecap="butt" stroke-linejoin="round"/><path d="M137.10,587.00 L137.86,585.70 L138.61,584.39 L139.37,583.08 L140.12,581.77 L140.87,580.46 L141.62,579.15 L142.37,577.84 L143.12,576.53 L143.87,575.22 L144.61,573.91 L145.36,572.59 L146.10,571.28 L146.84,569.97 L147.59,568.65 L148.33,567.34 L149.07,566.02 L149.81,564.70 L150.54,563.39 L151.28,562.07 L152.02,560.75 L152.75,559.43 L153.49,558.11 L154.22,556.80 L154.95,555.48 L155.68,554.16 L156.42,552.83 L157.15,551.51 L157.87,550.19 L158.60,548.87 L159.33,547.55 L160.06,546.22 L160.78,544.90 L161.51,543.58 L162.23,542.25 L162.96,540.93 L163.68,539.60 L164.40,538.27 L165.12,536.95 L165.84,535.62 L166.56,534.29 L167.28,532.97 L168.00,531.64 L168.72,530.31 L169.43,528.98 L170.15,527.65 L170.86,526.33 L171.58,525.00 L172.29,523.67 L173.01,522.34 L173.72,521.00 L174.43,519.67 L175.14,518.34 L175.86,517.01 L176.57,515.68 L177.28,514.35 L177.99,513.01 L178.70,511.68 L179.40,510.35 L180.11,509.02 L180.82,507.68 L181.53,506.35 L182.23,505.01 L182.94,503.68 L183.64,502.35 L184.35,501.01 L185.05,499.68 L185.76,498.34 L186.46,497.01 L187.17,495.67 L187.87,494.33 L188.57,493.00 L189.27,491.66 L189.98,490.32 L190.68,488.99 L191.38,487.65 L192.08,486.31 L192.78,484.98 L193.48,483.64 L194.18,482.30 L194.87,480.96 L195.56,479.62 L196.24,478.27 L196.92,476.92 L197.59,475.57 L198.24,474.21 L198.89,472.84 L199.52,471.47 L200.13,470.09 L200.73,468.71 L201.31,467.31 L201.87,465.91 L202.41,464.50 L202.93,463.08 L203.42,461.65 L203.88,460.22 L204.31,458.77 L204.72,457.32 L205.10,455.86 L205.47,454.39 L205.82,452.93 L206.16,451.45 L206.50,449.98 L206.83,448.51 L207.17,447.04 L207.51,445.57 L207.87,444.10 L208.24,442.64 L208.62,441.18 L209.03,439.73 L209.46,438.28 L209.92,436.84 L210.41,435.41 L210.94,434.00 L211.52,432.61 L212.14,431.23 L212.82,429.88 L213.57,428.57 L214.38,427.30 L215.27,426.08 L216.24,424.92 L217.30,423.85 L218.44,422.87 L219.68,422.00 L220.99,421.26 L222.39,420.68 L223.85,420.31 L225.35,420.21 L226.85,420.41 L228.28,420.88 L229.63,421.55 L230.90,422.37 L232.09,423.30 L233.22,424.30 L234.30,425.36 L235.33,426.45 L236.34,427.57 L237.33,428.72 L238.30,429.87 L239.27,431.03 L240.25,432.18 L241.23,433.33 L242.21,434.47 L243.19,435.62 L244.17,436.77 L245.13,437.94 L246.08,439.11 L247.01,440.30 L247.92,441.50 L248.82,442.71 L249.71,443.93 L250.59,445.16 L251.45,446.40 L252.31,447.64 L253.15,448.90 L253.98,450.16 L254.80,451.42 L255.62,452.69 L256.42,453.97 L257.22,455.25 L258.01,456.54 L258.79,457.83 L259.57,459.12 L260.34,460.42 L261.11,461.72 L261.88,463.02 L262.64,464.32 L263.40,465.63 L264.15,466.94 L264.91,468.24 L265.66,469.55 L266.42,470.86 L267.17,472.17 L267.93,473.47 L268.68,474.78 L269.45,476.08 L270.21,477.38 L270.98,478.68 L271.75,479.98 L272.53,481.27 L273.31,482.57 L274.10,483.85 L274.89,485.14 L275.70,486.41 L276.51,487.69 L277.33,488.95 L278.16,490.22 L279.00,491.47 L279.84,492.72 L280.71,493.96 L281.58,495.19 L282.46,496.41 L283.36,497.63 L284.26,498.84 L285.18,500.04 L286.11,501.23 L287.05,502.41 L287.99,503.58 L288.95,504.75 L289.93,505.90 L290.91,507.05 L291.90,508.19 L292.90,509.32 L293.91,510.44 L294.93,511.55 L295.96,512.65 L297.00,513.75 L298.06,514.83 L299.12,515.91 L300.19,516.97 L301.26,518.03 L302.35,519.07 L303.45,520.11 L304.56,521.14 L305.67,522.15 L306.80,523.16 L307.93,524.16 L309.07,525.15 L310.22,526.12 L311.38,527.09 L312.55,528.05 L313.72,529.00 L314.90,529.94 L316.09,530.86 L317.29,531.78 L318.50,532.69 L319.71,533.59 L320.93,534.47 L322.16,535.35 L323.40,536.22 L324.64,537.07 L325.89,537.92 L327.15,538.76 L328.41,539.58 L329.68,540.39 L330.96,541.20 L332.25,541.99 L333.54,542.77 L334.83,543.55 L336.14,544.31 L337.45,545.06 L338.76,545.80 L340.09,546.53 L341.41,547.24 L342.75,547.95 L344.09,548.65 L345.43,549.33 L346.78,550.00 L348.14,550.67 L349.50,551.32 L350.87,551.96 L352.24,552.58 L353.62,553.20 L355.00,553.81 L356.39,554.40 L357.78,554.98 L359.18,555.55 L360.58,556.11 L361.99,556.66 L363.40,557.20 L364.82,557.72 L366.24,558.23 L367.66,558.73 L369.09,559.22 L370.52,559.70 L371.96,560.16 L373.40,560.61 L374.84,561.05 L376.29,561.48 L377.74,561.90 L379.20,562.30 L380.66,562.69 L382.12,563.07 L383.58,563.43 L385.05,563.78 L386.52,564.12 L387.99,564.45 L389.47,564.77 L390.95,565.07 L392.43,565.36 L393.92,565.63 L395.40,565.89 L396.89,566.14 L398.38,566.38 L399.88,566.60 L401.37,566.81 L402.87,567.00 L404.37,567.19 L405.87,567.36 L407.37,567.51 L408.87,567.65 L410.38,567.78 L411.88,567.89 L413.39,567.99 L414.89,568.08 L416.40,568.15 L417.91,568.21 L419.42,568.25 L420.93,568.28 L422.44,568.30 L423.95,568.30 L425.46,568.28 L426.97,568.25 L428.48,568.21 L429.98,568.15 L431.49,568.08 L433.00,568.00" fill="none" stroke="#ea1d2c" stroke-width="6.3" stroke-linecap="butt" stroke-linejoin="round"/><path d="M483.00,591.00 L483.07,589.50 L483.14,587.99 L483.21,586.49 L483.28,584.99 L483.35,583.49 L483.41,581.98 L483.47,580.48 L483.54,578.98 L483.60,577.48 L483.66,575.97 L483.72,574.47 L483.78,572.97 L483.84,571.46 L483.89,569.96 L483.95,568.46 L484.01,566.95 L484.06,565.45 L484.12,563.95 L484.17,562.44 L484.22,560.94 L484.28,559.44 L484.33,557.94 L484.39,556.43 L484.44,554.93 L484.49,553.43 L484.55,551.92 L484.60,550.42 L484.65,548.92 L484.71,547.41 L484.76,545.91 L484.82,544.41 L484.87,542.90 L484.93,541.40 L484.99,539.90 L485.04,538.39 L485.10,536.89 L485.16,535.39 L485.22,533.89 L485.28,532.38 L485.34,530.88 L485.40,529.38 L485.47,527.87 L485.53,526.37 L485.60,524.87 L485.67,523.37 L485.74,521.86 L485.81,520.36 L485.88,518.86 L485.95,517.36 L486.03,515.85 L486.11,514.35 L486.19,512.85 L486.27,511.35 L486.35,509.85 L486.44,508.34 L486.52,506.84 L486.61,505.34 L486.71,503.84 L486.80,502.34 L486.90,500.84 L487.00,499.34 L487.10,497.84 L487.20,496.34 L487.31,494.84 L487.42,493.33 L487.53,491.83 L487.65,490.34 L487.76,488.84 L487.89,487.34 L488.01,485.84 L488.14,484.34 L488.27,482.84 L488.40,481.34 L488.54,479.84 L488.68,478.35 L488.83,476.85 L488.97,475.35 L489.12,473.86 L489.28,472.36 L489.44,470.86 L489.59,469.37 L489.76,467.87 L489.92,466.38 L490.09,464.88 L490.26,463.39 L490.43,461.89 L490.60,460.40 L490.78,458.91 L490.96,457.41 L491.14,455.92 L491.32,454.43 L491.50,452.93 L491.69,451.44 L491.87,449.95 L492.06,448.46 L492.25,446.96 L492.43,445.47 L492.62,443.98 L492.80,442.48 L492.98,440.99 L493.15,439.50 L493.32,438.00 L493.49,436.51 L493.65,435.01 L493.79,433.51 L493.93,432.02 L494.06,430.52 L494.18,429.02 L494.29,427.52 L494.41,426.02 L494.54,424.52 L494.70,423.02 L494.87,421.53 L495.07,420.04 L495.29,418.55 L495.53,417.07 L495.78,415.58 L496.04,414.10 L496.30,412.62 L496.57,411.14 L496.84,409.66 L497.14,408.19 L497.51,406.73 L498.35,406.07 L498.86,407.48 L499.19,408.95 L499.47,410.43 L499.72,411.91 L499.96,413.40 L500.18,414.89 L500.38,416.38 L500.56,417.87 L500.73,419.36 L500.89,420.86 L501.03,422.36 L501.15,423.86 L501.27,425.36 L501.37,426.86 L501.47,428.36 L501.57,429.86 L501.66,431.36 L501.75,432.86 L501.84,434.36 L501.93,435.87 L502.02,437.37 L502.10,438.87 L502.19,440.37 L502.27,441.87 L502.36,443.37 L502.44,444.88 L502.53,446.38 L502.61,447.88 L502.69,449.38 L502.77,450.88 L502.86,452.38 L502.94,453.89 L503.02,455.39 L503.10,456.89 L503.18,458.39 L503.27,459.89 L503.35,461.40 L503.43,462.90 L503.52,464.40 L503.60,465.90 L503.69,467.40 L503.77,468.91 L503.86,470.41 L503.95,471.91 L504.04,473.41 L504.13,474.91 L504.23,476.41 L504.32,477.91 L504.42,479.41 L504.52,480.92 L504.62,482.42 L504.73,483.92 L504.83,485.42 L504.94,486.92 L505.06,488.42 L505.17,489.92 L505.29,491.42 L505.42,492.91 L505.54,494.41 L505.67,495.91 L505.80,497.41 L505.94,498.91 L506.07,500.41 L506.21,501.90 L506.36,503.40 L506.50,504.90 L506.65,506.40 L506.80,507.89 L506.95,509.39 L507.11,510.88 L507.26,512.38 L507.42,513.88 L507.58,515.37 L507.75,516.87 L507.91,518.36 L508.08,519.86 L508.25,521.35 L508.42,522.85 L508.59,524.34 L508.77,525.83 L508.95,527.33 L509.13,528.82 L509.31,530.31 L509.49,531.81 L509.67,533.30 L509.86,534.79 L510.05,536.28 L510.25,537.78 L510.45,539.27 L510.67,540.75 L510.90,542.24 L511.15,543.72 L511.42,545.20 L511.71,546.68 L512.02,548.15 L512.36,549.62 L512.73,551.07 L513.12,552.53 L513.54,553.97 L514.00,555.41 L514.48,556.83 L514.98,558.25 L515.52,559.65 L516.09,561.04 L516.70,562.42 L517.33,563.78 L518.00,565.13 L518.72,566.45 L519.48,567.75 L520.28,569.02 L521.15,570.25 L522.07,571.44 L523.07,572.57 L524.14,573.62 L525.31,574.56 L526.58,575.37 L527.94,576.00 L529.39,576.40 L530.89,576.54 L532.38,576.41 L533.85,576.08 L535.27,575.58 L536.64,574.95 L537.95,574.22 L539.22,573.41 L540.44,572.54 L541.62,571.60 L542.76,570.63 L543.87,569.61 L544.94,568.55 L545.98,567.46 L546.98,566.34 L547.96,565.20 L548.90,564.03 L549.82,562.84 L550.70,561.62 L551.55,560.37 L552.36,559.11 L553.15,557.83 L553.91,556.53 L554.64,555.22 L555.36,553.89 L556.06,552.56 L556.75,551.23 L557.45,549.89 L558.14,548.56 L558.82,547.22 L559.51,545.88 L560.20,544.54 L560.88,543.20 L561.56,541.86 L562.24,540.52 L562.91,539.17 L563.59,537.83 L564.26,536.48 L564.92,535.14 L565.59,533.79 L566.25,532.43 L566.91,531.08 L567.56,529.73 L568.21,528.37 L568.85,527.01 L569.49,525.65 L570.13,524.29 L570.76,522.92 L571.39,521.55 L572.01,520.18 L572.62,518.81 L573.23,517.44 L573.84,516.06 L574.44,514.68 L575.03,513.30 L575.61,511.91 L576.19,510.52 L576.76,509.13 L577.33,507.74 L577.89,506.34 L578.44,504.94 L578.98,503.54 L579.51,502.13 L580.04,500.72 L580.55,499.31 L581.06,497.89 L581.57,496.48 L582.07,495.06 L582.58,493.64 L583.08,492.23 L583.59,490.81 L584.11,489.40 L584.63,487.99 L585.17,486.58 L585.71,485.18 L586.28,483.78 L586.85,482.40 L587.45,481.01 L588.06,479.64 L588.70,478.28 L589.36,476.93 L590.04,475.59 L590.75,474.26 L591.48,472.94 L592.22,471.63 L592.96,470.33 L593.71,469.02 L594.45,467.71 L595.19,466.40 L595.91,465.08 L596.62,463.75 L597.30,462.41 L597.95,461.06 L598.57,459.69 L599.17,458.31 L599.75,456.92 L600.31,455.52 L600.86,454.12 L601.40,452.72 L601.95,451.32 L602.50,449.92 L603.06,448.53 L603.64,447.14 L604.24,445.76 L604.87,444.39 L605.53,443.04 L606.22,441.70 L606.96,440.39 L607.74,439.11 L608.57,437.86 L609.46,436.64 L610.40,435.46 L611.39,434.34 L612.44,433.26 L613.55,432.24 L614.71,431.28 L615.92,430.39 L617.19,429.59 L618.51,428.87 L619.89,428.28 L621.33,427.83 L622.80,427.55 L624.31,427.47 L625.80,427.64 L627.24,428.06 L628.59,428.72 L629.81,429.60 L630.91,430.62 L631.91,431.75 L632.83,432.94 L633.70,434.17 L634.52,435.43 L635.31,436.71 L636.08,438.00 L636.84,439.29 L637.61,440.59 L638.39,441.87 L639.19,443.15 L640.01,444.41 L640.83,445.67 L641.65,446.93 L642.46,448.20 L643.27,449.47 L644.06,450.74 L644.85,452.02 L645.64,453.30 L646.42,454.59 L647.20,455.88 L647.97,457.17 L648.74,458.46 L649.50,459.76 L650.26,461.06 L651.02,462.36 L651.77,463.66 L652.52,464.96 L653.27,466.27 L654.02,467.57 L654.76,468.88 L655.51,470.18 L656.25,471.49 L657.00,472.80 L657.74,474.11 L658.48,475.42 L659.22,476.72 L659.97,478.03 L660.71,479.34 L661.46,480.64 L662.21,481.95 L662.96,483.25 L663.71,484.55 L664.47,485.85 L665.23,487.15 L665.99,488.45 L666.76,489.74 L667.52,491.04 L668.30,492.33 L669.08,493.61 L669.86,494.90 L670.65,496.18 L671.45,497.45 L672.25,498.73 L673.05,500.00 L673.87,501.26 L674.69,502.52 L675.51,503.78 L676.35,505.03 L677.19,506.28 L678.04,507.52 L678.90,508.75 L679.77,509.98 L680.65,511.20 L681.54,512.41 L682.43,513.62 L683.34,514.82 L684.26,516.02 L685.18,517.20 L686.12,518.38 L687.07,519.54 L688.03,520.70 L689.00,521.85 L689.98,522.99 L690.98,524.12 L691.98,525.24 L693.00,526.34 L694.03,527.44 L695.07,528.52 L696.13,529.59 L697.20,530.65 L698.28,531.70 L699.37,532.73 L700.47,533.75 L701.59,534.76 L702.72,535.76 L703.86,536.74 L705.01,537.70 L706.18,538.66 L707.35,539.60 L708.53,540.52 L709.73,541.44 L710.94,542.33 L712.16,543.22 L713.38,544.09 L714.62,544.94 L715.87,545.78 L717.13,546.60 L718.40,547.41 L719.67,548.21 L720.96,548.98 L722.26,549.75 L723.56,550.49 L724.88,551.22 L726.20,551.94 L727.54,552.63 L728.88,553.31 L730.23,553.98 L731.59,554.62 L732.95,555.25 L734.33,555.86 L735.71,556.45 L737.10,557.03 L738.50,557.58 L739.90,558.12 L741.31,558.64 L742.73,559.14 L744.16,559.62 L745.59,560.08 L747.03,560.52 L748.47,560.94 L749.92,561.34 L751.38,561.72 L752.84,562.08 L754.31,562.42 L755.78,562.73 L757.25,563.03 L758.73,563.30 L760.21,563.55 L761.70,563.78 L763.19,563.98 L764.68,564.17 L766.18,564.32 L767.68,564.46 L769.18,564.57 L770.68,564.66 L772.18,564.73 L773.68,564.77 L775.19,564.79 L776.69,564.78 L778.20,564.75 L779.70,564.70" fill="none" stroke="#ea1d2c" stroke-width="6.3" stroke-linecap="butt" stroke-linejoin="round"/><path d="M485.80,591.00 L485.93,589.50 L486.06,587.99 L486.19,586.49 L486.32,584.99 L486.45,583.48 L486.57,581.98 L486.70,580.48 L486.82,578.97 L486.95,577.47 L487.07,575.96 L487.20,574.46 L487.32,572.96 L487.44,571.45 L487.57,569.95 L487.69,568.44 L487.81,566.94 L487.94,565.44 L488.06,563.93 L488.18,562.43 L488.31,560.92 L488.43,559.42 L488.56,557.92 L488.68,556.41 L488.81,554.91 L488.94,553.41 L489.07,551.90 L489.20,550.40 L489.33,548.90 L489.46,547.39 L489.59,545.89 L489.73,544.39 L489.86,542.88 L490.00,541.38 L490.13,539.88 L490.27,538.37 L490.41,536.87 L490.55,535.37 L490.69,533.87 L490.83,532.36 L490.98,530.86 L491.12,529.36 L491.26,527.86 L491.41,526.36 L491.55,524.85 L491.70,523.35 L491.85,521.85 L492.00,520.35 L492.14,518.85 L492.29,517.35 L492.44,515.84 L492.59,514.34 L492.75,512.84 L492.90,511.34 L493.05,509.84 L493.20,508.34 L493.35,506.84 L493.50,505.33 L493.65,503.83 L493.79,502.33 L493.93,500.83 L494.07,499.33 L494.20,497.82 L494.33,496.32 L494.45,494.81 L494.58,493.31 L494.71,491.81 L494.85,490.30 L495.02,488.80 L495.25,487.31 L495.78,487.51 L496.00,489.00 L496.17,490.50 L496.33,492.00 L496.47,493.50 L496.61,495.01 L496.75,496.51 L496.89,498.01 L497.02,499.51 L497.15,501.02 L497.28,502.52 L497.40,504.03 L497.51,505.53 L497.60,507.04 L497.69,508.54 L497.77,510.05 L497.84,511.56 L497.90,513.07 L497.97,514.57 L498.03,516.08 L498.10,517.59 L498.17,519.10 L498.25,520.60 L498.35,522.11 L498.47,523.61 L498.59,525.12 L498.73,526.62 L498.87,528.12 L499.00,529.62 L499.13,531.13 L499.25,532.63 L499.36,534.14 L499.46,535.64 L499.55,537.15 L499.65,538.66 L499.73,540.16 L499.82,541.67 L499.92,543.17 L500.01,544.68 L500.12,546.19 L500.24,547.69 L500.37,549.19 L500.52,550.69 L500.68,552.19 L500.87,553.69 L501.08,555.19 L501.32,556.68 L501.59,558.16 L501.88,559.64 L502.22,561.11 L502.58,562.58 L502.99,564.03 L503.44,565.47 L503.93,566.90 L504.47,568.31 L505.05,569.70 L505.69,571.07 L506.38,572.40 L507.14,573.71 L507.96,574.98 L508.85,576.20 L509.81,577.36 L510.84,578.46 L511.95,579.49 L513.13,580.43 L514.38,581.27 L515.70,582.00 L517.07,582.63 L518.49,583.14 L519.94,583.55 L521.41,583.88 L522.90,584.15 L524.39,584.36 L525.89,584.53 L527.39,584.66 L528.90,584.77 L530.41,584.84 L531.91,584.88 L533.42,584.90 L534.93,584.88 L536.44,584.85 L537.95,584.78 L539.46,584.70 L540.96,584.59 L542.46,584.47 L543.97,584.33 L545.47,584.18 L546.97,584.01 L548.47,583.83 L549.96,583.65 L551.46,583.46 L552.96,583.26 L554.45,583.07 L555.95,582.87 L557.45,582.68 L558.94,582.49 L560.44,582.30 L561.94,582.11 L563.43,581.92 L564.93,581.72 L566.43,581.51 L567.92,581.29 L569.41,581.05 L570.89,580.79 L572.37,580.50 L573.85,580.19 L575.32,579.84 L576.78,579.46 L578.23,579.04 L579.66,578.58 L581.08,578.06 L582.48,577.50 L583.86,576.89 L585.22,576.23 L586.56,575.53 L587.87,574.78 L589.16,574.00 L590.43,573.19 L591.68,572.34 L592.91,571.47 L594.13,570.57 L595.32,569.66 L596.50,568.72 L597.67,567.76 L598.83,566.79 L599.97,565.81 L601.11,564.82 L602.24,563.82 L603.36,562.81 L604.48,561.80 L605.60,560.79 L606.72,559.77 L607.84,558.76 L608.96,557.75 L610.09,556.75 L611.22,555.75 L612.36,554.76 L613.51,553.78 L614.67,552.82 L615.84,551.87 L617.03,550.94 L618.24,550.03 L619.46,549.14 L620.70,548.28 L621.95,547.45 L623.23,546.65 L624.54,545.89 L625.86,545.16 L627.20,544.47 L628.57,543.83 L629.95,543.23 L631.35,542.66 L632.76,542.14 L634.19,541.65 L635.63,541.21 L637.09,540.80 L638.55,540.43 L640.02,540.09 L641.50,539.79 L642.99,539.53 L644.48,539.30 L645.97,539.11 L647.47,538.94 L648.98,538.81 L650.48,538.71 L651.99,538.65 L653.50,538.61 L655.01,538.60 L656.52,538.62 L658.02,538.67 L659.53,538.75 L661.04,538.85 L662.54,538.98 L664.04,539.14 L665.54,539.32 L667.03,539.53 L668.52,539.76 L670.01,540.02 L671.49,540.30 L672.97,540.61 L674.44,540.95 L675.90,541.33 L677.35,541.76 L678.78,542.22 L680.20,542.74 L681.59,543.32 L682.96,543.95 L684.30,544.65 L685.60,545.42 L686.86,546.25 L688.06,547.16 L689.22,548.13 L690.33,549.15 L691.41,550.21 L692.46,551.29 L693.48,552.40 L694.50,553.52 L695.51,554.64 L696.52,555.76 L697.54,556.87 L698.57,557.97 L699.61,559.06 L700.67,560.14 L701.74,561.20 L702.83,562.25 L703.93,563.28 L705.06,564.28 L706.21,565.26 L707.37,566.21 L708.57,567.14 L709.78,568.03 L711.03,568.89 L712.30,569.70 L713.59,570.48 L714.90,571.22 L716.24,571.92 L717.59,572.59 L718.96,573.22 L720.35,573.82 L721.75,574.38 L723.16,574.91 L724.59,575.40 L726.02,575.87 L727.47,576.31 L728.92,576.72 L730.38,577.11 L731.84,577.47 L733.31,577.81 L734.79,578.13 L736.27,578.43 L737.75,578.71 L739.24,578.97 L740.72,579.22 L742.22,579.45 L743.71,579.66 L745.20,579.87 L746.70,580.06 L748.20,580.24 L749.70,580.42 L751.20,580.58 L752.70,580.74 L754.20,580.89 L755.70,581.04 L757.20,581.18 L758.71,581.33 L760.21,581.47 L761.71,581.61 L763.21,581.75 L764.71,581.89 L766.22,582.04 L767.72,582.19 L769.22,582.35 L770.72,582.51 L772.22,582.69 L773.72,582.87 L775.21,583.07 L776.71,583.28 L778.20,583.50" fill="none" stroke="#37489c" stroke-width="6.3" stroke-linecap="butt" stroke-linejoin="round"/><path d="M128.00,905.47 L129.49,905.22 L130.98,904.98 L132.47,904.75 L133.97,904.52 L135.46,904.30 L136.96,904.08 L138.46,903.88 L139.95,903.68 L141.45,903.48 L142.95,903.30 L144.45,903.12 L145.96,902.94 L147.46,902.78 L148.96,902.62 L150.47,902.46 L151.97,902.31 L153.48,902.17 L154.98,902.03 L156.49,901.90 L157.99,901.78 L159.50,901.65 L161.01,901.54 L162.51,901.43 L164.02,901.32 L165.53,901.22 L167.04,901.13 L168.55,901.04 L170.06,900.95 L171.57,900.87 L173.08,900.79 L174.59,900.72 L176.10,900.65 L177.61,900.58 L179.12,900.52 L180.63,900.46 L182.14,900.40 L183.65,900.35 L185.16,900.30 L186.67,900.26 L188.18,900.21 L189.69,900.17 L191.21,900.14 L192.72,900.10 L194.23,900.07 L195.74,900.04 L197.25,900.01 L198.76,899.99 L200.27,899.96 L201.79,899.94 L203.30,899.93 L204.81,899.91 L206.32,899.90 L207.83,899.88 L209.34,899.87 L210.85,899.87 L212.37,899.86 L213.88,899.86 L215.39,899.85 L216.90,899.85 L218.41,899.85 L219.93,899.85 L221.44,899.86 L222.95,899.86 L224.46,899.87 L225.97,899.87 L227.48,899.88 L229.00,899.89 L230.51,899.90 L232.02,899.91 L233.53,899.92 L235.04,899.94 L236.55,899.95 L238.06,899.96 L239.58,899.98 L241.09,900.00 L242.60,900.01 L244.11,900.03 L245.62,900.05 L247.13,900.06 L248.65,900.08 L250.16,900.10 L251.67,900.12 L253.18,900.14 L254.69,900.15 L256.20,900.17 L257.72,900.19 L259.23,900.21 L260.74,900.23 L262.25,900.24 L263.76,900.26 L265.27,900.28 L266.79,900.29 L268.30,900.31 L269.81,900.32 L271.32,900.34 L272.83,900.35 L274.34,900.37 L275.85,900.38 L277.37,900.39 L278.88,900.40 L280.39,900.41 L281.90,900.42 L283.41,900.43 L284.92,900.44 L286.44,900.45 L287.95,900.46 L289.46,900.47 L290.97,900.48 L292.48,900.48 L293.99,900.49 L295.51,900.50 L297.02,900.50 L298.53,900.51 L300.04,900.51 L301.55,900.52 L303.07,900.52 L304.58,900.53 L306.09,900.53 L307.60,900.53 L309.11,900.54 L310.62,900.54 L312.14,900.54 L313.65,900.54 L315.16,900.54 L316.67,900.54 L318.18,900.55 L319.69,900.55 L321.21,900.55 L322.72,900.55 L324.23,900.55 L325.74,900.55 L327.25,900.55 L328.76,900.54 L330.28,900.54 L331.79,900.54 L333.30,900.54 L334.81,900.54 L336.32,900.54 L337.83,900.54 L339.35,900.53 L340.86,900.53 L342.37,900.53 L343.88,900.53 L345.39,900.52 L346.90,900.52 L348.42,900.52 L349.93,900.52 L351.44,900.51 L352.95,900.51 L354.46,900.51 L355.97,900.50 L357.49,900.50 L359.00,900.50 L360.51,900.50 L362.02,900.49 L363.53,900.49 L365.04,900.49 L366.56,900.48 L368.07,900.48 L369.58,900.48 L371.09,900.47 L372.60,900.47 L374.11,900.47 L375.63,900.47 L377.14,900.46 L378.65,900.46 L380.16,900.46 L381.67,900.46 L383.18,900.46 L384.70,900.45 L386.21,900.45 L387.72,900.45 L389.23,900.45 L390.74,900.45 L392.25,900.45 L393.77,900.45 L395.28,900.45 L396.79,900.45 L398.30,900.45 L399.81,900.45 L401.32,900.45 L402.84,900.45 L404.35,900.45 L405.86,900.45 L407.37,900.46 L408.88,900.46 L410.39,900.46 L411.91,900.46 L413.42,900.47 L414.93,900.47 L416.44,900.47 L417.95,900.48 L419.47,900.48 L420.98,900.49 L422.49,900.49 L424.00,900.50" fill="none" stroke="#37489c" stroke-width="6.3" stroke-linecap="butt" stroke-linejoin="round"/><path d="M127.99,902.48 L129.44,902.04 L130.90,901.63 L132.35,901.23 L133.81,900.85 L135.28,900.48 L136.75,900.13 L138.22,899.80 L139.70,899.47 L141.18,899.17 L142.66,898.88 L144.15,898.60 L145.64,898.34 L147.13,898.09 L148.62,897.85 L150.11,897.63 L151.61,897.42 L153.11,897.22 L154.61,897.03 L156.11,896.86 L157.61,896.69 L159.11,896.54 L160.62,896.40 L162.12,896.27 L163.63,896.14 L165.14,896.03 L166.64,895.92 L168.15,895.83 L169.66,895.74 L171.17,895.66 L172.68,895.59 L174.19,895.52 L175.70,895.46 L177.21,895.41 L178.72,895.37 L180.23,895.33 L181.74,895.29 L183.25,895.26 L184.76,895.24 L186.27,895.22 L187.78,895.20 L189.30,895.19 L190.81,895.18 L192.32,895.17 L193.83,895.17 L195.34,895.17 L196.85,895.17 L198.36,895.17 L199.87,895.17 L201.38,895.18 L202.90,895.18 L204.41,895.19 L205.92,895.20 L207.43,895.21 L208.94,895.21 L210.45,895.22 L211.96,895.23 L213.47,895.24 L214.98,895.26 L216.50,895.27 L218.01,895.28 L219.52,895.30 L221.03,895.31 L222.54,895.33 L224.05,895.34 L225.56,895.36 L227.07,895.37 L228.58,895.39 L230.09,895.41 L231.61,895.43 L233.12,895.45 L234.63,895.46 L236.14,895.48 L237.65,895.50 L239.16,895.52 L240.67,895.54 L242.18,895.57 L243.69,895.59 L245.20,895.61 L246.72,895.63 L248.23,895.65 L249.74,895.67 L251.25,895.70 L252.76,895.72 L254.27,895.74 L255.78,895.76 L257.29,895.78 L258.80,895.81 L260.31,895.83 L261.82,895.85 L263.34,895.87 L264.85,895.90 L266.36,895.92 L267.87,895.94 L269.38,895.96 L270.89,895.99 L272.40,896.01 L273.91,896.03 L275.42,896.05 L276.93,896.07 L278.45,896.09 L279.96,896.11 L281.47,896.13 L282.98,896.15 L284.49,896.17 L286.00,896.19 L287.51,896.21 L289.02,896.23 L290.53,896.25 L292.04,896.27 L293.56,896.28 L295.07,896.30 L296.58,896.32 L298.09,896.33 L299.60,896.35 L301.11,896.37 L302.62,896.38 L304.13,896.39 L305.64,896.41 L307.15,896.42 L308.67,896.43 L310.18,896.45 L311.69,896.46 L313.20,896.47 L314.71,896.48 L316.22,896.49 L317.73,896.50 L319.24,896.51 L320.75,896.52 L322.27,896.53 L323.78,896.53 L325.29,896.54 L326.80,896.55 L328.31,896.55 L329.82,896.55 L331.33,896.56 L332.84,896.56 L334.35,896.56 L335.87,896.57 L337.38,896.57 L338.89,896.57 L340.40,896.57 L341.91,896.57 L343.42,896.56 L344.93,896.56 L346.44,896.56 L347.95,896.55 L349.46,896.55 L350.98,896.54 L352.49,896.53 L354.00,896.53 L355.51,896.52 L357.02,896.51 L358.53,896.50 L360.04,896.49 L361.55,896.48 L363.06,896.46 L364.58,896.45 L366.09,896.43 L367.60,896.42 L369.11,896.40 L370.62,896.38 L372.13,896.36 L373.64,896.34 L375.15,896.32 L376.66,896.30 L378.17,896.28 L379.69,896.26 L381.20,896.23 L382.71,896.21 L384.22,896.18 L385.73,896.15 L387.24,896.12 L388.75,896.09 L390.26,896.06 L391.77,896.03 L393.28,895.99 L394.79,895.96 L396.30,895.92 L397.81,895.88 L399.33,895.85 L400.84,895.81 L402.35,895.77 L403.86,895.72 L405.37,895.68 L406.88,895.64 L408.39,895.59 L409.90,895.54 L411.41,895.50 L412.92,895.45 L414.43,895.40 L415.94,895.34 L417.45,895.29 L418.96,895.24 L420.47,895.18 L421.98,895.12 L423.49,895.06 L425.00,895.00" fill="none" stroke="#ea1d2c" stroke-width="6.3" stroke-linecap="butt" stroke-linejoin="round"/><path d="M477.50,898.50 L478.82,897.77 L480.15,897.05 L481.48,896.34 L482.81,895.62 L484.14,894.91 L485.47,894.21 L486.81,893.50 L488.14,892.80 L489.47,892.09 L490.81,891.38 L492.14,890.68 L493.47,889.97 L494.80,889.26 L496.13,888.54 L497.46,887.82 L498.78,887.10 L500.10,886.37 L501.42,885.63 L502.73,884.89 L504.04,884.14 L505.35,883.38 L506.65,882.62 L507.94,881.84 L509.23,881.06 L510.51,880.26 L511.79,879.45 L513.05,878.64 L514.31,877.81 L515.56,876.96 L516.81,876.10 L518.04,875.23 L519.26,874.34 L520.47,873.44 L521.66,872.52 L522.85,871.59 L524.02,870.63 L525.17,869.66 L526.31,868.68 L527.44,867.67 L528.54,866.64 L529.63,865.60 L530.71,864.54 L531.77,863.47 L532.81,862.38 L533.84,861.27 L534.85,860.15 L535.84,859.02 L536.82,857.87 L537.79,856.71 L538.73,855.54 L539.67,854.35 L540.59,853.15 L541.49,851.94 L542.38,850.72 L543.25,849.49 L544.11,848.25 L544.95,847.00 L545.78,845.74 L546.60,844.47 L547.40,843.20 L548.19,841.91 L548.97,840.62 L549.74,839.32 L550.49,838.01 L551.23,836.70 L551.96,835.38 L552.68,834.05 L553.38,832.72 L554.08,831.38 L554.76,830.03 L555.44,828.68 L556.10,827.33 L556.75,825.97 L557.40,824.60 L558.03,823.23 L558.66,821.86 L559.27,820.48 L559.88,819.10 L560.48,817.72 L561.07,816.33 L561.65,814.94 L562.23,813.54 L562.80,812.15 L563.36,810.75 L563.92,809.34 L564.48,807.94 L565.03,806.54 L565.57,805.13 L566.12,803.72 L566.65,802.31 L567.19,800.90 L567.73,799.49 L568.26,798.08 L568.80,796.67 L569.33,795.26 L569.86,793.85 L570.40,792.44 L570.93,791.03 L571.47,789.62 L572.01,788.21 L572.56,786.80 L573.10,785.39 L573.66,783.99 L574.21,782.59 L574.77,781.19 L575.34,779.79 L575.92,778.39 L576.50,777.00 L577.09,775.61 L577.68,774.23 L578.29,772.84 L578.90,771.47 L579.53,770.09 L580.16,768.72 L580.80,767.36 L581.46,766.00 L582.12,764.64 L582.79,763.29 L583.46,761.94 L584.14,760.59 L584.82,759.24 L585.49,757.90 L586.16,756.54 L586.83,755.19 L587.49,753.83 L588.14,752.47 L588.78,751.11 L589.41,749.73 L590.02,748.35 L590.61,746.97 L591.19,745.57 L591.74,744.17 L592.27,742.76 L592.78,741.34 L593.27,739.91 L593.73,738.47 L594.17,737.03 L594.62,735.59 L595.09,734.15 L595.58,732.73 L596.12,731.32 L596.80,729.97 L597.72,728.78 L599.01,728.03 L600.50,727.98 L601.95,728.40 L603.30,729.07 L604.56,729.89 L605.75,730.83 L606.85,731.86 L607.89,732.95 L608.87,734.09 L609.81,735.28 L610.71,736.49 L611.59,737.71 L612.45,738.95 L613.30,740.20 L614.15,741.45 L615.01,742.69 L615.87,743.93 L616.73,745.16 L617.60,746.40 L618.47,747.63 L619.33,748.87 L620.18,750.11 L621.03,751.36 L621.86,752.62 L622.67,753.89 L623.47,755.18 L624.24,756.47 L624.99,757.79 L625.71,759.11 L626.40,760.45 L627.08,761.80 L627.73,763.16 L628.37,764.53 L628.98,765.90 L629.59,767.29 L630.18,768.68 L630.76,770.07 L631.33,771.47 L631.89,772.87 L632.45,774.27 L633.00,775.67 L633.55,777.08 L634.10,778.48 L634.65,779.89 L635.21,781.29 L635.77,782.69 L636.34,784.09 L636.92,785.48 L637.51,786.87 L638.10,788.25 L638.71,789.64 L639.32,791.02 L639.94,792.39 L640.57,793.76 L641.21,795.13 L641.85,796.50 L642.50,797.86 L643.15,799.22 L643.81,800.57 L644.48,801.93 L645.15,803.28 L645.83,804.63 L646.51,805.98 L647.19,807.32 L647.88,808.66 L648.57,810.01 L649.26,811.35 L649.95,812.68 L650.65,814.02 L651.35,815.36 L652.05,816.70 L652.75,818.03 L653.46,819.37 L654.16,820.70 L654.86,822.04 L655.57,823.37 L656.27,824.71 L656.97,826.04 L657.67,827.38 L658.37,828.72 L659.06,830.06 L659.76,831.40 L660.45,832.74 L661.13,834.08 L661.82,835.43 L662.50,836.77 L663.18,838.12 L663.85,839.47 L664.52,840.82 L665.19,842.18 L665.85,843.53 L666.52,844.88 L667.19,846.23 L667.87,847.58 L668.54,848.93 L669.23,850.28 L669.92,851.62 L670.63,852.95 L671.34,854.28 L672.07,855.60 L672.81,856.92 L673.56,858.22 L674.34,859.52 L675.13,860.80 L675.94,862.07 L676.77,863.33 L677.63,864.58 L678.51,865.80 L679.41,867.01 L680.34,868.20 L681.30,869.36 L682.29,870.50 L683.31,871.62 L684.36,872.70 L685.43,873.76 L686.54,874.79 L687.67,875.78 L688.83,876.75 L690.01,877.69 L691.22,878.59 L692.45,879.47 L693.70,880.31 L694.97,881.12 L696.26,881.90 L697.58,882.64 L698.91,883.35 L700.25,884.03 L701.62,884.68 L703.00,885.29 L704.39,885.87 L705.80,886.42 L707.22,886.93 L708.65,887.41 L710.09,887.86 L711.54,888.28 L712.99,888.67 L714.46,889.03 L715.93,889.36 L717.41,889.67 L718.89,889.95 L720.37,890.21 L721.86,890.45 L723.36,890.67 L724.85,890.86 L726.35,891.04 L727.85,891.20 L729.36,891.34 L730.86,891.46 L732.36,891.57 L733.87,891.66 L735.38,891.74 L736.88,891.81 L738.39,891.87 L739.90,891.92 L741.41,891.96 L742.92,891.99 L744.42,892.01 L745.93,892.02 L747.44,892.03 L748.95,892.03 L750.46,892.03 L751.97,892.03 L753.48,892.02 L754.99,892.02 L756.50,892.01 L758.00,892.00 L759.51,891.99 L761.02,891.99 L762.53,891.98 L764.04,891.99 L765.55,891.99 L767.06,892.01 L768.57,892.03 L770.07,892.06 L771.58,892.09 L773.09,892.14 L774.60,892.20" fill="none" stroke="#ea1d2c" stroke-width="6.3" stroke-linecap="butt" stroke-linejoin="round"/><path d="M477.50,900.50 L478.97,900.15 L480.44,899.79 L481.91,899.43 L483.37,899.06 L484.84,898.70 L486.31,898.33 L487.77,897.96 L489.24,897.59 L490.70,897.21 L492.16,896.83 L493.63,896.46 L495.09,896.08 L496.55,895.70 L498.02,895.31 L499.48,894.93 L500.94,894.55 L502.40,894.16 L503.86,893.78 L505.33,893.40 L506.79,893.01 L508.25,892.63 L509.71,892.25 L511.18,891.86 L512.64,891.48 L514.10,891.10 L515.56,890.72 L517.03,890.34 L518.49,889.97 L519.96,889.59 L521.42,889.22 L522.89,888.85 L524.35,888.48 L525.82,888.11 L527.28,887.75 L528.75,887.39 L530.22,887.03 L531.69,886.68 L533.16,886.32 L534.63,885.97 L536.10,885.63 L537.57,885.28 L539.04,884.93 L540.52,884.58 L541.99,884.23 L543.46,883.88 L544.93,883.53 L546.40,883.18 L547.86,882.82 L549.33,882.45 L550.80,882.08 L552.26,881.71 L553.72,881.33 L555.19,880.94 L556.64,880.55 L558.10,880.14 L559.56,879.73 L561.01,879.31 L562.46,878.88 L563.90,878.44 L565.34,877.99 L566.78,877.53 L568.22,877.05 L569.65,876.56 L571.07,876.06 L572.49,875.54 L573.91,875.01 L575.32,874.47 L576.72,873.91 L578.12,873.33 L579.51,872.74 L580.90,872.13 L582.27,871.50 L583.64,870.86 L585.00,870.20 L586.35,869.52 L587.69,868.83 L589.02,868.11 L590.35,867.38 L591.66,866.63 L592.95,865.85 L594.24,865.06 L595.52,864.25 L596.78,863.41 L598.02,862.55 L599.25,861.68 L600.46,860.78 L601.66,859.85 L602.84,858.91 L604.00,857.94 L605.14,856.94 L606.25,855.92 L607.35,854.88 L608.42,853.81 L609.46,852.72 L610.48,851.60 L611.47,850.46 L612.42,849.29 L613.35,848.09 L614.24,846.87 L615.10,845.63 L615.93,844.37 L616.73,843.08 L617.50,841.78 L618.25,840.47 L618.98,839.14 L619.69,837.81 L620.38,836.47 L621.06,835.12 L621.74,833.77 L622.41,832.41 L623.07,831.05 L623.73,829.69 L624.40,828.34 L625.07,826.98 L625.76,825.63 L626.45,824.29 L627.15,822.96 L627.88,821.63 L628.62,820.31 L629.39,819.01 L630.17,817.72 L630.99,816.45 L631.83,815.19 L632.71,813.96 L633.61,812.75 L634.55,811.56 L635.53,810.41 L636.53,809.28 L637.57,808.18 L638.64,807.11 L639.74,806.08 L640.87,805.08 L642.04,804.12 L643.24,803.20 L644.48,802.33 L645.74,801.50 L647.04,800.73 L648.37,800.01 L649.73,799.35 L651.12,798.76 L652.54,798.23 L653.98,797.79 L655.46,797.46 L656.95,797.25 L658.46,797.18 L659.97,797.28 L661.45,797.56 L662.89,798.03 L664.26,798.67 L665.55,799.45 L666.78,800.33 L667.96,801.28 L669.09,802.28 L670.19,803.32 L671.26,804.39 L672.30,805.48 L673.32,806.59 L674.33,807.72 L675.33,808.85 L676.33,809.99 L677.32,811.13 L678.31,812.28 L679.28,813.44 L680.23,814.61 L681.16,815.80 L682.07,817.01 L682.96,818.23 L683.83,819.47 L684.68,820.71 L685.53,821.97 L686.36,823.23 L687.19,824.49 L688.01,825.76 L688.83,827.03 L689.65,828.30 L690.47,829.57 L691.29,830.84 L692.12,832.11 L692.95,833.37 L693.78,834.63 L694.62,835.88 L695.47,837.14 L696.32,838.38 L697.18,839.63 L698.05,840.87 L698.93,842.10 L699.81,843.33 L700.70,844.55 L701.60,845.76 L702.50,846.97 L703.42,848.17 L704.35,849.37 L705.29,850.55 L706.24,851.73 L707.20,852.90 L708.17,854.05 L709.15,855.20 L710.14,856.34 L711.15,857.47 L712.17,858.58 L713.21,859.68 L714.25,860.78 L715.31,861.85 L716.39,862.92 L717.48,863.96 L718.58,865.00 L719.70,866.01 L720.83,867.02 L721.98,868.00 L723.14,868.97 L724.32,869.91 L725.51,870.84 L726.72,871.75 L727.94,872.64 L729.18,873.51 L730.43,874.36 L731.70,875.18 L732.98,875.98 L734.28,876.76 L735.59,877.51 L736.91,878.23 L738.26,878.93 L739.61,879.59 L740.98,880.23 L742.37,880.84 L743.76,881.42 L745.17,881.96 L746.60,882.47 L748.03,882.94 L749.48,883.38 L750.94,883.78 L752.40,884.14 L753.88,884.47 L755.36,884.75 L756.85,885.01 L758.35,885.25 L759.84,885.48 L761.34,885.69 L762.83,885.91 L764.33,886.14 L765.82,886.39 L767.31,886.66 L768.79,886.95 L770.26,887.29 L771.72,887.67 L773.17,888.11 L774.60,888.60" fill="none" stroke="#37489c" stroke-width="6.3" stroke-linecap="butt" stroke-linejoin="round"/><rect x="264.00" y="85.80" width="18.00" height="6.20" fill="#37489c"/><rect x="264.00" y="112.50" width="18.00" height="6.30" fill="#ea1d2c"/><text x="129.25" y="24.00" font-size="28.05" font-weight="700">Short-term response</text><text x="494.25" y="23.00" font-size="28.05" font-weight="700">Long-term response</text><text x="203.00" y="67.20" font-size="31.6" font-weight="700">Methanol</text><text x="249.18" y="386.95" font-size="31.6" font-weight="700">LOX</text><text x="185.75" y="697.00" font-size="31.6" font-weight="700">Monoterpenes</text><text x="296.00" y="96.50" font-size="21.0" font-weight="700">Mild (5 mM)</text><text x="294.25" y="126.00" font-size="21.0" font-weight="700">Severe (20 mM)</text><text x="73.00" y="83.25" font-size="32" font-weight="400">200</text><text x="75.25" y="202.75" font-size="32" font-weight="400">100</text><text x="423.10" y="72.35" font-size="32" font-weight="400">100</text><text x="436.75" y="202.25" font-size="32" font-weight="400">50</text><text x="87.35" y="418.65" font-size="32" font-weight="400">15</text><text x="89.40" y="487.35" font-size="32" font-weight="400">10</text><text x="104.25" y="550.00" font-size="32" font-weight="400">5</text><text x="434.25" y="420.00" font-size="32" font-weight="400">40</text><text x="435.10" y="511.60" font-size="32" font-weight="400">20</text><text x="99.75" y="730.50" font-size="32" font-weight="400">6</text><text x="97.20" y="792.55" font-size="32" font-weight="400">4</text><text x="98.88" y="861.65" font-size="32" font-weight="400">2</text><text x="446.25" y="730.50" font-size="32" font-weight="400">6</text><text x="446.95" y="796.20" font-size="32" font-weight="400">4</text><text x="448.25" y="857.60" font-size="32" font-weight="400">2</text><text x="143.45" y="69.25" font-size="32" font-weight="400">a</text><text x="492.70" y="76.95" font-size="32" font-weight="400">b</text><text x="144.50" y="365.00" font-size="32" font-weight="400">c</text><text x="489.35" y="364.18" font-size="32" font-weight="400">d</text><text x="140.25" y="688.75" font-size="32" font-weight="400">e</text><text x="484.75" y="694.50" font-size="32" font-weight="400">f</text><text x="211.00" y="974.00" font-size="32" font-weight="400">Time (min)</text><text x="573.30" y="968.50" font-size="32" font-weight="400">Time (h)</text><text x="179.80" y="329.00" font-size="32" font-weight="400">20</text><text x="406.50" y="327.40" font-size="32" font-weight="400">100</text><text x="546.85" y="329.85" font-size="32" font-weight="400">10</text><text x="180.15" y="627.50" font-size="32" font-weight="400">20</text><text x="239.68" y="627.50" font-size="32" font-weight="400">40</text><text x="304.00" y="627.50" font-size="32" font-weight="400">60</text><text x="359.00" y="627.50" font-size="32" font-weight="400">80</text><text x="404.50" y="627.50" font-size="32" font-weight="400">100</text><text x="539.60" y="627.35" font-size="32" font-weight="400">10</text><text x="618.70" y="627.35" font-size="32" font-weight="400">20</text><text x="692.45" y="627.35" font-size="32" font-weight="400">30</text><text x="763.75" y="627.35" font-size="32" font-weight="400">40</text><text x="171.70" y="940.85" font-size="32" font-weight="400">20</text><text x="231.70" y="940.85" font-size="32" font-weight="400">40</text><text x="350.35" y="940.05" font-size="32" font-weight="400">80</text><text x="532.15" y="941.95" font-size="32" font-weight="400">10</text><text x="686.10" y="940.60" font-size="32" font-weight="400">30</text><text x="757.70" y="940.60" font-size="32" font-weight="400">40</text><text x="32.75" y="277.00" font-size="31.4" font-weight="400" transform="rotate(-90 32.75 277.00)">Emission rate</text><text x="71.00" y="277.25" font-size="31.4" font-weight="400" transform="rotate(-90 71.00 277.25)">(nmol m<tspan class="sup" dy="-11">-2</tspan><tspan dy="11"> s</tspan><tspan class="sup" dy="-11">-1</tspan><tspan dy="11" dx="4">)</tspan></text><text x="240.10" y="329.65" font-size="32" font-weight="400">40</text><text x="304.90" y="328.55" font-size="32" font-weight="400">60</text><text x="359.45" y="328.55" font-size="32" font-weight="400">80</text><text x="624.70" y="327.32" font-size="32" font-weight="400">20</text><text x="700.70" y="329.35" font-size="32" font-weight="400">30</text><text x="763.65" y="329.05" font-size="32" font-weight="400">40</text><text x="295.90" y="940.70" font-size="32" font-weight="400">60</text><text x="399.15" y="940.70" font-size="32" font-weight="400">100</text><text x="612.25" y="940.25" font-size="32" font-weight="400">20</text><text x="27.50" y="563.75" font-size="31.4" font-weight="400" transform="rotate(-90 27.50 563.75)">Emission rate</text><text x="66.00" y="564.75" font-size="31.4" font-weight="400" transform="rotate(-90 66.00 564.75)">(nmol m<tspan class="sup" dy="-11">-2</tspan><tspan dy="11"> s</tspan><tspan class="sup" dy="-11">-1</tspan><tspan dy="11" dx="4">)</tspan></text><text x="27.75" y="869.50" font-size="31.4" font-weight="400" transform="rotate(-90 27.75 869.50)">Emission rate</text><text x="66.00" y="870.75" font-size="31.4" font-weight="400" transform="rotate(-90 66.00 870.75)">(nmol m<tspan class="sup" dy="-11">-2</tspan><tspan dy="11"> s</tspan><tspan class="sup" dy="-11">-1</tspan><tspan dy="11" dx="4">)</tspan></text></svg></body></html>
